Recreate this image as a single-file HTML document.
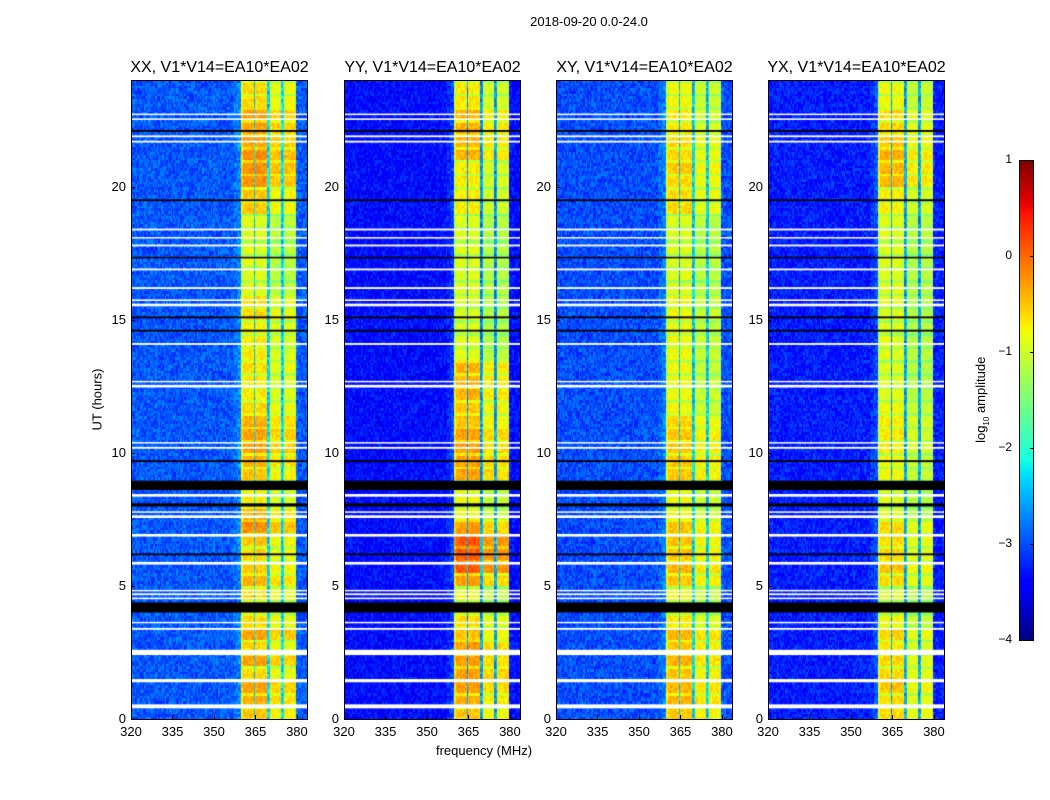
<!DOCTYPE html>
<html><head><meta charset="utf-8">
<style>
body{margin:0;background:#fff;width:1050px;height:800px;position:relative;overflow:hidden;font-family:"Liberation Sans","DejaVu Sans",sans-serif;color:#000}
.t{position:absolute;white-space:nowrap}
canvas{position:absolute}
.frame{position:absolute;border:1px solid #000;box-sizing:border-box}
</style></head><body>
<div class="t" style="left:489px;top:14px;width:200px;text-align:center;font-size:13px">2018-09-20 0.0-24.0</div>
<div class="t" style="left:47px;top:392px;width:100px;text-align:center;font-size:13px;transform:rotate(-90deg)">UT (hours)</div>
<div class="t" style="left:384px;top:743px;width:200px;text-align:center;font-size:13px">frequency (MHz)</div>
<div class="t" style="left:922px;top:391px;width:120px;text-align:center;font-size:13px;transform:rotate(-90deg)">log<sub style="font-size:8px">10</sub> amplitude</div>
<div id="root"></div>
<script>
// ---- data ----
const panelTitles=["XX, V1*V14=EA10*EA02","YY, V1*V14=EA10*EA02","XY, V1*V14=EA10*EA02","YX, V1*V14=EA10*EA02"];
const freqTicks=[320,335,350,365,380];
const timeTicks=[0,5,10,15,20];
const cbTicks=[1,0,-1,-2,-3,-4];
// background log amplitude per panel
const bgLevel=[-2.95,-3.35,-3.0,-3.25];
// band profile in 0.5 MHz channels from 320 to 384 MHz (0=background,1=band)
const bandProfile=[
0,0,0,0,0,0,0,0,0,0,0,0,0,0,0,0,0,0,0,0,
0,0,0,0,0,0,0,0,0,0,0,0,0,0,0,0,0,0,0,0,
0,0,0,0,0,0,0,0,0,0,0,0,0,0,0,0,0,0,0,0,
0,0,0,0,0,0,0,0,0,0,0,0,0,0,0.03,0.05,0.05,0.08,0.1,0.12,
0.9,1,1,1,1,1,1,1,1,0.25,1,1,1,1,1,1,1,1,1,0.25,
0.3,0.9,0.9,0.9,0.9,0.9,0.9,0.9,0.9,0.25,0.3,0.9,0.9,0.9,0.9,0.9,0.9,0.9,0.9,0.9,
0.03,0,0,0,0,0,0,0,0];
// band peak log amplitude in 0.5 h bins (48) per panel
const bandXX=[-0.5,-0.4,-0.3,-0.6,-0.3,-0.6,-0.3,-0.6,-0.7,-0.6,-0.4,-0.5,-0.6,-0.5,-0.2,-0.4,-0.7,-0.7,-0.5,-0.4,-0.3,-0.3,-0.4,-0.6,-0.7,-0.7,-0.6,-0.7,-0.7,-0.7,-0.6,-0.6,-0.9,-0.9,-0.9,-0.9,-0.9,-0.9,-0.5,-0.5,-0.2,-0.2,-0.2,-0.3,-0.3,-0.3,-0.6,-0.6];
const bandYY=[-0.5,-0.4,-0.3,-0.3,-0.3,-0.3,-0.5,-0.6,-0.8,-0.8,-0.3,0.1,0.1,0.1,-0.3,-0.8,-0.8,-0.8,-0.3,-0.3,-0.3,-0.3,-0.5,-0.5,-0.4,-0.4,-0.4,-0.9,-0.9,-0.9,-0.9,-0.9,-0.9,-0.9,-0.9,-0.9,-0.9,-0.9,-0.7,-0.7,-0.7,-0.7,-0.4,-0.4,-0.4,-0.4,-0.7,-0.7];
const bandXY=[-0.5,-0.4,-0.4,-0.5,-0.4,-0.5,-0.4,-0.7,-0.8,-0.8,-0.5,-0.4,-0.5,-0.5,-0.5,-0.8,-0.8,-0.8,-0.5,-0.5,-0.5,-0.5,-0.6,-0.8,-0.8,-0.8,-0.8,-0.8,-0.8,-0.8,-0.8,-0.8,-0.9,-0.9,-0.9,-0.9,-0.9,-0.9,-0.6,-0.6,-0.6,-0.5,-0.6,-0.6,-0.7,-0.7,-0.8,-0.8];
const bandYX=[-0.6,-0.6,-0.5,-0.6,-0.6,-0.7,-0.6,-0.8,-0.9,-0.9,-0.6,-0.5,-0.6,-0.6,-0.6,-0.9,-0.9,-0.9,-0.8,-0.8,-0.7,-0.7,-0.7,-0.8,-0.9,-0.9,-0.9,-0.9,-0.9,-0.9,-0.9,-0.9,-0.9,-0.9,-0.9,-0.9,-0.9,-0.9,-0.7,-0.7,-0.4,-0.4,-0.4,-0.5,-0.6,-0.6,-0.8,-0.8];
const bandLevels=[bandXX,bandYY,bandXY,bandYX];
// flagged time ranges (hours): white = no data, black = zero
const whiteFlags=[[0.4,0.55],[1.38,1.5],[2.4,2.6],[3.35,3.42],[3.6,3.65],[4.5,4.56],[4.65,4.72],[4.8,4.85],[5.8,5.9],[6.85,6.95],[7.55,7.65],[7.75,7.8],[8.35,8.45],[10.15,10.22],[10.35,10.4],[12.45,12.55],[12.65,12.7],[14.05,14.12],[15.5,15.6],[15.7,15.76],[16.15,16.22],[16.85,16.92],[17.75,17.82],[18.05,18.1],[18.35,18.42],[21.65,21.72],[21.85,21.92],[22.5,22.56],[22.68,22.74]];
const blackFlags=[[4.0,4.38],[6.15,6.22],[7.98,8.1],[8.6,8.95],[9.65,9.72],[14.55,14.62],[15.05,15.12],[17.3,17.36],[19.45,19.52],[22.05,22.12]];
// ---- geometry ----
const panelLeft=[131,344,556,768],plotW=177,plotTop=80,plotBot=719;
const fMin=320,fMax=384,tMin=0,tMax=24;
const xs=f=>(f-fMin)/(fMax-fMin)*plotW;
const ys=t=>(plotBot-plotTop)*(1-(t-tMin)/(tMax-tMin));
function jet(v){const x=Math.max(0,Math.min(1,v));
 function itp(pts){for(let i=1;i<pts.length;i++){if(x<=pts[i][0]){const a=pts[i-1],b=pts[i];return a[1]+(b[1]-a[1])*(x-a[0])/(b[0]-a[0]);}}return pts[pts.length-1][1];}
 return [itp([[0,0],[0.35,0],[0.66,1],[0.89,1],[1,0.5]]),itp([[0,0],[0.125,0],[0.375,1],[0.64,1],[0.91,0],[1,0]]),itp([[0,0.5],[0.11,1],[0.34,1],[0.65,0],[1,0]])].map(c=>Math.round(c*255));}
const vToN=v=>(v+4)/5;
function hash(a,b){let h=(a*374761393+b*668265263)|0;h=(h^(h>>>13))*1274126177|0;return ((h^(h>>>16))>>>0)/4294967296;}
const root=document.getElementById('root');
const nT=240,tStep=0.1;
panelLeft.forEach((L,p)=>{
 const cv=document.createElement('canvas');
 
 
 cv.width=plotW;cv.height=plotBot-plotTop;
 cv.style.left=L+'px';cv.style.top=plotTop+'px';
 root.appendChild(cv);
 const ctx=cv.getContext('2d');
 for(let c=0;c<bandProfile.length;c++){
  const f0=fMin+c*0.5,x0=xs(f0),x1=xs(f0+0.5);
  for(let r=0;r<nT;r++){
   const t0=r*tStep;
   const band=bandLevels[p][Math.floor(t0/0.5)];
   const tex=(r%5===4)?-0.35:0;
   const n=(hash(c+p*997,r)-0.5)*0.55;
   const pr=bandProfile[c];
   const v=bgLevel[p]+pr*(band-bgLevel[p]+tex*(pr>0.5?1:0))+n*(pr>0.5?0.6:1);
   const col=jet(vToN(v));
   ctx.fillStyle=`rgb(${col[0]},${col[1]},${col[2]})`;
   const y0=ys(t0+tStep),y1=ys(t0);
   ctx.fillRect(Math.floor(x0),Math.floor(y0),Math.ceil(x1)-Math.floor(x0),Math.ceil(y1)-Math.floor(y0));
  }
 }
 whiteFlags.forEach(([a,b])=>{ctx.fillStyle='#fff';ctx.fillRect(0,ys(b),plotW,Math.max(1.5,ys(a)-ys(b)));});
 blackFlags.forEach(([a,b])=>{ctx.fillStyle='#000';ctx.fillRect(0,ys(b),plotW,Math.max(1.5,ys(a)-ys(b)));});
 const fr=document.createElement('div');
 fr.className='frame';
 
 
 fr.style.cssText=`left:${L}px;top:${plotTop}px;width:${plotW}px;height:${plotBot-plotTop+1}px`;
 root.appendChild(fr);
 const tt=document.createElement('div');
 tt.className='t';
 
 
 tt.style.cssText=`left:${L-30}px;top:59px;width:${plotW+60}px;text-align:center;font-size:16px`;
 tt.textContent=panelTitles[p];
 root.appendChild(tt);
 freqTicks.forEach(f=>{
  const x=L+xs(f);
  const tk=document.createElement('div');
  
  
  tk.style.cssText=`position:absolute;left:${x}px;top:${plotBot-4}px;width:1px;height:4px;background:#000`;
  root.appendChild(tk);
  const lb=document.createElement('div');
  lb.className='t';
  
  
  lb.style.cssText=`left:${x-20}px;top:${plotBot+5}px;width:40px;text-align:center;font-size:13px`;
  lb.textContent=f;
  root.appendChild(lb);
 });
 timeTicks.forEach(t=>{
  const y=plotTop+ys(t);
  const tk=document.createElement('div');
  
  
  tk.style.cssText=`position:absolute;left:${L}px;top:${y}px;width:4px;height:1px;background:#000`;
  root.appendChild(tk);
  const lb=document.createElement('div');
  lb.className='t';
  
  
  lb.style.cssText=`left:${L-45}px;top:${y-8}px;width:40px;text-align:right;font-size:13px`;
  lb.textContent=t;
  root.appendChild(lb);
 });
});
// colorbar
const cbL=1019,cbT=160,cbW=15,cbH=480;
const cb=document.createElement('canvas');


cb.width=cbW;cb.height=cbH;cb.style.left=cbL+'px';cb.style.top=cbT+'px';
root.appendChild(cb);
const cctx=cb.getContext('2d');
for(let i=0;i<cbH;i++){const c=jet(1-i/cbH);cctx.fillStyle=`rgb(${c[0]},${c[1]},${c[2]})`;cctx.fillRect(0,i,cbW,1);}
const cbf=document.createElement('div');
cbf.className='frame';


cbf.style.cssText=`left:${cbL}px;top:${cbT}px;width:${cbW}px;height:${cbH+1}px`;
root.appendChild(cbf);
cbTicks.forEach(v=>{
 const y=cbT+(1-v)/5*cbH;
 const lb=document.createElement('div');
 lb.className='t';
 
 
 lb.style.cssText=`left:${cbL-40}px;top:${y-8}px;width:33px;text-align:right;font-size:12px`;
 lb.textContent=String(v).replace('-','\u2212');
 root.appendChild(lb);
 const tk=document.createElement('div');
 
 
 tk.style.cssText=`position:absolute;left:${cbL+cbW-4}px;top:${y}px;width:4px;height:1px;background:#000`;
 root.appendChild(tk);
});
</script>
</body></html>
